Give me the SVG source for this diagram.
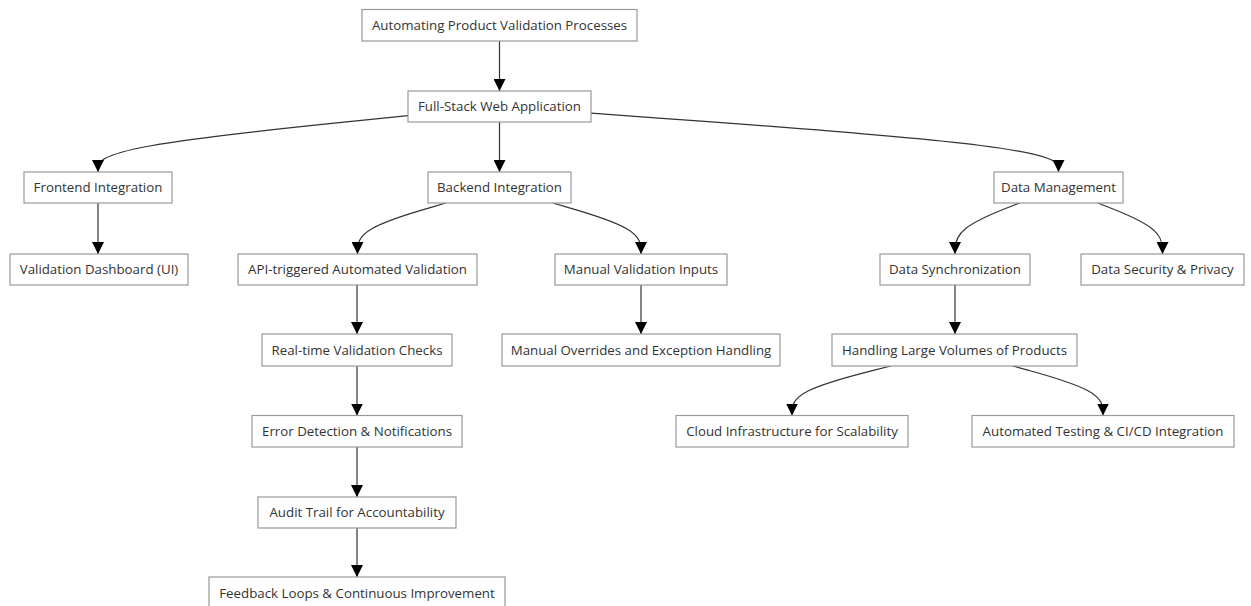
<svg xmlns="http://www.w3.org/2000/svg" width="1251" height="606" viewBox="0 0 1251 606">
<style>
.node rect{fill:#ffffff;stroke:#999999;stroke-width:1.2px}
.node text{font-family:"Open Sans","Noto Sans","Liberation Sans",sans-serif;font-size:13.3px;fill:#333333;text-anchor:middle}
.edges path{fill:none;stroke:#333333;stroke-width:1.2px;marker-end:url(#arrow)}
</style>
<defs>
<marker id="arrow" viewBox="0 0 10 10" refX="10" refY="5" markerUnits="userSpaceOnUse" markerWidth="12" markerHeight="12" orient="auto">
<path d="M0,0 L10,5 L0,10 z" fill="#000000"/>
</marker>
</defs>
<rect width="1251" height="606" fill="#ffffff"/>
<g class="edges">
<path d="M499.5,41 L499.5,91"/>
<path d="M499.5,122 L499.5,172"/>
<path d="M408,115.7 L356.3,120.9 C304.7,126.1 201.3,136.6 149.7,146 C98,155.3 98,163.7 98,167.8 L98,172"/>
<path d="M591,113.1 L668.9,118.8 C746.8,124.4 902.7,135.7 980.6,145.5 C1058.5,155.3 1058.5,163.7 1058.5,167.8 L1058.5,172"/>
<path d="M98,203 L98,254"/>
<path d="M445.8,203 L431.1,207.3 C416.4,211.5 386.9,220 372.2,228.5 C357.5,237 357.5,245.5 357.5,249.8 L357.5,254"/>
<path d="M553,203 L567.7,207.3 C582.3,211.5 611.7,220 626.3,228.5 C641,237 641,245.5 641,249.8 L641,254"/>
<path d="M1019.4,203 L1008.7,207.3 C997.9,211.5 976.5,220 965.7,228.5 C955,237 955,245.5 955,249.8 L955,254"/>
<path d="M1097.8,203 L1108.6,207.3 C1119.4,211.5 1140.9,220 1151.7,228.5 C1162.5,237 1162.5,245.5 1162.5,249.8 L1162.5,254"/>
<path d="M357,285 L357,334"/>
<path d="M641,285 L641,334"/>
<path d="M955,285 L955,334"/>
<path d="M357,366 L357,415.5"/>
<path d="M357,447 L357,497"/>
<path d="M357,528 L357,577"/>
<path d="M890.7,366 L874.3,370.1 C857.8,374.3 824.9,382.5 808.5,390.8 C792,399 792,407.3 792,411.4 L792,415.5"/>
<path d="M1012.8,366 L1027.8,370.1 C1042.9,374.3 1072.9,382.5 1088,390.8 C1103,399 1103,407.3 1103,411.4 L1103,415.5"/>
</g>
<g id="n1" class="node"><rect x="362" y="9.5" width="275" height="31.5"/><text x="499.5" y="30">Automating Product Validation Processes</text></g>
<g id="n2" class="node"><rect x="408" y="91" width="183" height="31"/><text x="499.5" y="111.3">Full-Stack Web Application</text></g>
<g id="n3" class="node"><rect x="24" y="172" width="148" height="31"/><text x="98" y="192.3">Frontend Integration</text></g>
<g id="n4" class="node"><rect x="10" y="254" width="178" height="31"/><text x="99" y="274.3">Validation Dashboard (UI)</text></g>
<g id="n5" class="node"><rect x="428" y="172" width="143" height="31"/><text x="499.5" y="192.3">Backend Integration</text></g>
<g id="n6" class="node"><rect x="238" y="254" width="239" height="31"/><text x="357.5" y="274.3">API-triggered Automated Validation</text></g>
<g id="n7" class="node"><rect x="555" y="254" width="172" height="31"/><text x="641" y="274.3">Manual Validation Inputs</text></g>
<g id="n8" class="node"><rect x="994" y="172" width="129" height="31"/><text x="1058.5" y="192.3">Data Management</text></g>
<g id="n9" class="node"><rect x="880" y="254" width="150" height="31"/><text x="955" y="274.3">Data Synchronization</text></g>
<g id="n10" class="node"><rect x="1081" y="254" width="163" height="31"/><text x="1162.5" y="274.3">Data Security &amp; Privacy</text></g>
<g id="n11" class="node"><rect x="262" y="334" width="190" height="32"/><text x="357" y="354.8">Real-time Validation Checks</text></g>
<g id="n12" class="node"><rect x="502" y="334" width="278" height="32"/><text x="641" y="354.8">Manual Overrides and Exception Handling</text></g>
<g id="n13" class="node"><rect x="832" y="334" width="245" height="32"/><text x="954.5" y="354.8">Handling Large Volumes of Products</text></g>
<g id="n14" class="node"><rect x="252" y="415.5" width="210" height="31.5"/><text x="357" y="436">Error Detection &amp; Notifications</text></g>
<g id="n15" class="node"><rect x="676" y="415.5" width="232" height="31.5"/><text x="792" y="436">Cloud Infrastructure for Scalability</text></g>
<g id="n16" class="node"><rect x="972" y="415.5" width="262" height="31.5"/><text x="1103" y="436">Automated Testing &amp; CI/CD Integration</text></g>
<g id="n17" class="node"><rect x="258" y="497" width="198" height="31"/><text x="357" y="517.3">Audit Trail for Accountability</text></g>
<g id="n18" class="node"><rect x="209" y="577" width="296" height="32"/><text x="357" y="597.8">Feedback Loops &amp; Continuous Improvement</text></g>
</svg>
